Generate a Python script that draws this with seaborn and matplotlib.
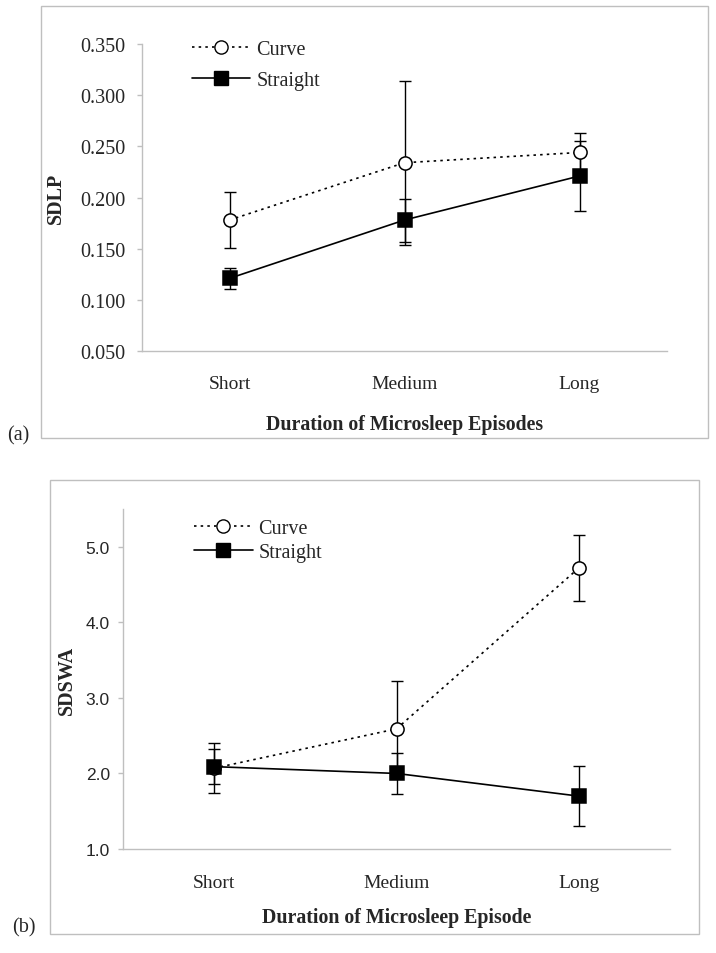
# -*- coding: utf-8 -*-

import numpy as np
import pandas as pd
import matplotlib
matplotlib.use('Agg')
import matplotlib.pyplot as plt
import seaborn as sns
from matplotlib.lines import Line2D
from matplotlib.patches import Rectangle

# 数据
categories = ['Short', 'Medium', 'Long']
series = ['Curve', 'Straight']

# (a) SDLP
sdlp_curve = [0.178, 0.234, 0.244]
sdlp_curve_err = [0.027, 0.080, 0.019]
sdlp_straight = [0.121, 0.178, 0.221]
sdlp_straight_err = [0.010, 0.021, 0.034]

# (b) SDSWA
sdswa_curve = [2.07, 2.59, 4.72]
sdswa_curve_err = [0.33, 0.63, 0.44]
sdswa_straight = [2.09, 2.00, 1.70]
sdswa_straight_err = [0.23, 0.27, 0.40]

W, H = 716, 954
GRAY = '#bfbfbf'
SERIF = 'Liberation Serif'
SANS = 'Liberation Sans'

sns.set_theme(style='white')
plt.rcParams['font.family'] = [SERIF, 'DejaVu Serif']


def make_df(curve, curve_err, straight, straight_err):
    rows = []
    for name, vals, errs in [('Curve', curve, curve_err), ('Straight', straight, straight_err)]:
        for i, cat in enumerate(categories):
            rows.append({'pos': i, 'Duration': cat, 'Series': name, 'value': vals[i], 'err': errs[i]})
    return pd.DataFrame(rows)


def draw_panel(ax, df, ylim, yticks, fmt, tick_font, tick_size, ypad, ylabel, ylabelpad,
               xpad, xlabel, xlabelpad, leg_xy, leg_spacing):
    # 误差线
    for name in series:
        sub = df[df['Series'] == name]
        ax.errorbar(sub['pos'], sub['value'], yerr=sub['err'], fmt='none',
                    ecolor='black', elinewidth=1.0, capsize=4, capthick=1.0, zorder=2)
    # 折线 + 标记
    sns.lineplot(data=df, x='pos', y='value', hue='Series', style='Series',
                 palette={'Curve': 'black', 'Straight': 'black'},
                 dashes={'Curve': (1.5, 2.5), 'Straight': ''},
                 markers={'Curve': 'o', 'Straight': 's'},
                 ax=ax, legend=False, linewidth=1.2, markersize=9.5,
                 markeredgecolor='black', markeredgewidth=1.1, zorder=3)
    for line, name in zip(ax.get_lines()[-2:], series):
        if name == 'Curve':
            line.set_markerfacecolor('white')
        else:
            line.set_markerfacecolor('black')

    ax.set_xlim(-0.5, len(categories) - 0.5)
    ax.set_ylim(*ylim)
    ax.set_yticks(yticks)
    ax.set_yticklabels([fmt.format(v) for v in yticks], fontfamily=tick_font, fontsize=tick_size)
    ax.set_xticks(range(len(categories)))
    ax.set_xticklabels(categories, fontfamily=SERIF, fontsize=14)
    ax.set_xticks(np.arange(-0.5, len(categories)), minor=True)
    ax.tick_params(axis='x', which='major', length=0, pad=xpad)
    ax.tick_params(axis='x', which='minor', length=5, width=1, color=GRAY, direction='out')
    ax.tick_params(axis='y', length=3.5, width=1, color=GRAY, direction='out', pad=ypad, left=True)

    for s in ['top', 'right']:
        ax.spines[s].set_visible(False)
    for s in ['left', 'bottom']:
        ax.spines[s].set_color(GRAY)
        ax.spines[s].set_linewidth(1.0)

    ax.set_xlabel(xlabel, fontfamily=SERIF, fontsize=14.3, fontweight='bold', labelpad=xlabelpad)
    ax.set_ylabel(ylabel, fontfamily=SERIF, fontsize=14.5, fontweight='bold', labelpad=ylabelpad)

    handles = [
        Line2D([], [], color='black', linestyle=(0, (1.5, 2.5)), linewidth=1.2, marker='o',
               markersize=9.5, markerfacecolor='white', markeredgecolor='black'),
        Line2D([], [], color='black', linestyle='-', linewidth=1.2, marker='s',
               markersize=9.5, markerfacecolor='black', markeredgecolor='black'),
    ]
    ax.legend(handles, series, loc='upper left', bbox_to_anchor=leg_xy, frameon=False,
              prop={'family': SERIF, 'size': 14.5}, handlelength=2.9, handletextpad=0.3,
              labelspacing=leg_spacing, borderpad=0, borderaxespad=0, numpoints=1)


fig = plt.figure(figsize=(W / 100, H / 100), dpi=100)

# 外框
fig.patches.append(Rectangle((41 / W, 1 - 439 / H), (708 - 41) / W, (439 - 7) / H,
                             transform=fig.transFigure, fill=False, edgecolor=GRAY, linewidth=1.0))
fig.patches.append(Rectangle((50 / W, 1 - 935 / H), (699 - 50) / W, (935 - 481) / H,
                             transform=fig.transFigure, fill=False, edgecolor=GRAY, linewidth=1.0))

# (a)
ax1 = fig.add_axes([142 / W, 1 - 352 / H, (667 - 142) / W, (352 - 45) / H])
df_a = make_df(sdlp_curve, sdlp_curve_err, sdlp_straight, sdlp_straight_err)
draw_panel(ax1, df_a, (0.05, 0.35), np.arange(0.05, 0.351, 0.05), '{:.3f}', SERIF, 14.5, 8.5,
           'SDLP', 10, 17, 'Duration of Microsleep Episodes', 16,
           (0.095, 1.012), 0.55)

# (b)
ax2 = fig.add_axes([123 / W, 1 - 850 / H, (670 - 123) / W, (850 - 510) / H])
df_b = make_df(sdswa_curve, sdswa_curve_err, sdswa_straight, sdswa_straight_err)
draw_panel(ax2, df_b, (1.0, 5.5), np.arange(1.0, 5.01, 1.0), '{:.1f}', SANS, 12.5, 6,
           'SDSWA', 6, 18, 'Duration of Microsleep Episode', 11.5,
           (0.13, 0.97), 0.25)

fig.text(7 / W, 1 - 436 / H, '(a)', fontfamily=SERIF, fontsize=14.5, ha='left', va='center')
fig.text(12 / W, 1 - 928 / H, '(b)', fontfamily=SERIF, fontsize=14.5, ha='left', va='center')

fig.savefig('out.png', dpi=100)
